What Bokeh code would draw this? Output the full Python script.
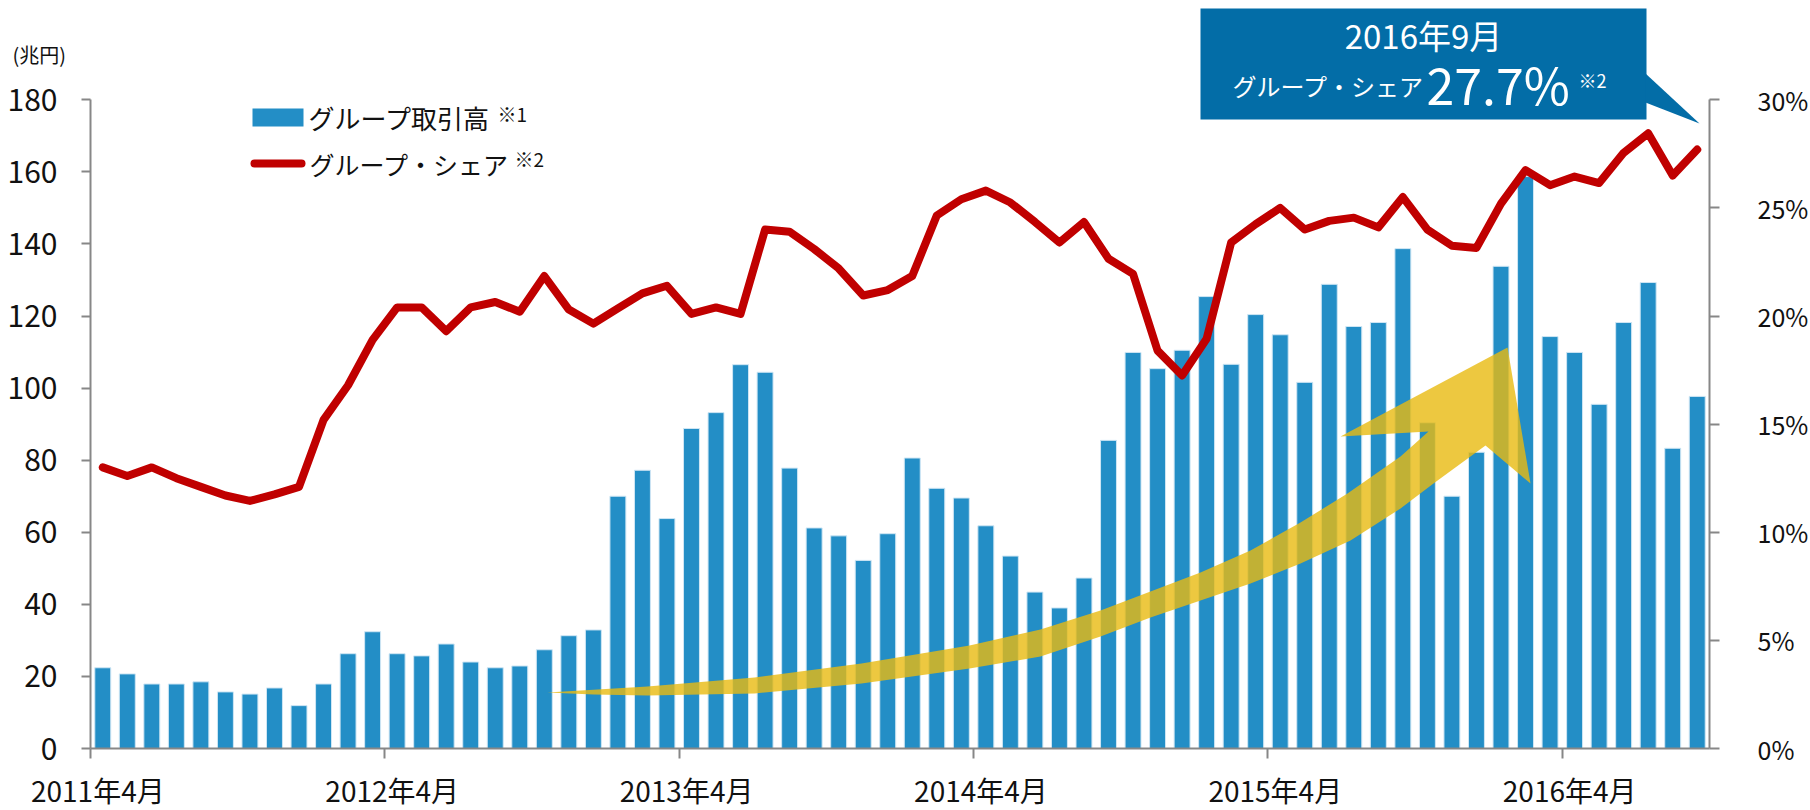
from bokeh.plotting import figure
from bokeh.models import (Range1d, LinearAxis, FixedTicker, PrintfTickFormatter,
                          Label, BoxAnnotation, PolyAnnotation, ColumnDataSource)
from bokeh.embed import file_html
from bokeh.resources import INLINE

# ---------------- data ----------------
volume = [22.4, 20.7, 17.9, 17.9, 18.5, 15.7, 15.1, 16.8, 11.9, 17.9,
          26.3, 32.4, 26.3, 25.7, 29.0, 24.0, 22.4, 22.9, 27.4, 31.3,
          32.9, 70.0, 77.2, 63.8, 88.8, 93.2, 106.5, 104.4, 77.8, 61.2,
          59.0, 52.2, 59.6, 80.6, 72.2, 69.5, 61.8, 53.4, 43.4, 39.0,
          47.3, 85.5, 109.9, 105.4, 110.5, 125.4, 106.6, 120.4, 114.8, 101.6,
          128.8, 117.1, 118.2, 138.7, 90.4, 70.0, 82.2, 133.8, 158.7, 114.3,
          109.9, 95.5, 118.2, 129.3, 83.3, 97.7]
share = [13.0, 12.6, 13.0, 12.5, 12.1, 11.7, 11.45, 11.75, 12.1, 15.2,
         16.8, 18.9, 20.4, 20.4, 19.3, 20.4, 20.65, 20.2, 21.85, 20.3,
         19.65, 20.35, 21.05, 21.4, 20.1, 20.4, 20.1, 24.0, 23.9, 23.1,
         22.2, 20.95, 21.2, 21.85, 24.65, 25.4, 25.8, 25.25, 24.35, 23.4,
         24.35, 22.65, 21.95, 18.4, 17.25, 18.95, 23.4, 24.25, 25.0, 24.0,
         24.4, 24.55, 24.1, 25.5, 24.0, 23.25, 23.15, 25.2, 26.75, 26.05,
         26.45, 26.15, 27.55, 28.45, 26.5, 27.7]
x_tick_labels = ["2011年4月", "2012年4月", "2013年4月", "2014年4月", "2015年4月", "2016年4月"]
left_ticks = [0, 20, 40, 60, 80, 100, 120, 140, 160, 180]
right_ticks = [0, 5, 10, 15, 20, 25, 30]
latest_label = "2016年9月"
bar_name = "グループ取引高"
line_name = "グループ・シェア"
unit_label = "(兆円)"

# ---------------- style / geometry ----------------
FONT = "Noto Sans CJK JP"
BAR = "#238EC6"
RED = "#C00000"
AXIS = "#878787"
BOXC = "#036DA7"
YEL = "#E8BA10"
TXT = "#111111"

W, H = 1810, 810
n = len(volume)
YMAX, PMAX = 180, 30
# pixel positions of the plotting area (x=-0.5..n-0.5, y=0..YMAX)
PX_L, PX_R, PY_B, PY_T = 90.0, 1709.0, 748.0, 99.3
ppx = (PX_R - PX_L) / n
ppy = (PY_B - PY_T) / YMAX
xs0 = -0.5 - PX_L / ppx
xs1 = n - 0.5 + (W - PX_R) / ppx
ys0 = -(H - PY_B) / ppy
ys1 = YMAX + PY_T / ppy
k = YMAX / PMAX

p = figure(width=W, height=H, output_backend="svg", toolbar_location=None,
           x_range=Range1d(xs0, xs1), y_range=Range1d(ys0, ys1),
           x_axis_location=None, y_axis_location=None,
           min_border=0, min_border_left=0, min_border_right=0,
           min_border_top=0, min_border_bottom=0)
p.extra_y_ranges = {"pct": Range1d(ys0 / k, ys1 / k)}
p.outline_line_color = None
p.xgrid.visible = False
p.ygrid.visible = False
p.background_fill_color = "white"
p.border_fill_color = "white"


# page pixel -> data helpers (for decorative annotations only)
def dx(px):
    return xs0 + px / W * (xs1 - xs0)


def dy(py):
    return ys1 - py / H * (ys1 - ys0)


src = ColumnDataSource(dict(x=list(range(n)), vol=volume, pct=share))
p.vbar(x="x", top="vol", width=0.65, source=src, fill_color=BAR,
       line_color="#CFE6F4", line_width=1)

# yellow trend arrow (decorative)
arrow_px = [(547, 692), (647, 686), (754, 677), (861, 663), (969, 645), (1040, 629),
            (1100, 610), (1150, 591), (1200, 572), (1250, 550), (1300, 522), (1347, 493),
            (1400, 456), (1428, 431), (1340, 436), (1507, 347), (1530, 483), (1485, 445),
            (1433, 483), (1400, 508), (1350, 540), (1300, 563), (1250, 583), (1200, 600),
            (1150, 617), (1100, 636), (1040, 656), (969, 668), (861, 683), (754, 693),
            (647, 695), (593, 694)]
p.patch([dx(a) for a, b in arrow_px], [dy(b) for a, b in arrow_px],
        fill_color=YEL, fill_alpha=0.8, line_color=None)

p.line(x="x", y="pct", source=src, y_range_name="pct", line_color=RED,
       line_width=8, line_join="round", line_cap="round")

# ---------------- axes ----------------
lab_pos = [12 * i - 0.2 for i in range(len(x_tick_labels))]
xa = LinearAxis(fixed_location=0, bounds=(-0.5, n - 0.5),
                ticker=FixedTicker(ticks=lab_pos,
                                   minor_ticks=[-0.5 + 12 * i for i in range(len(x_tick_labels))]),
                major_label_overrides={t: s for t, s in zip(lab_pos, x_tick_labels)},
                axis_line_color=AXIS, axis_line_width=2,
                major_tick_line_color=None, major_tick_out=0, major_tick_in=0,
                minor_tick_line_color=AXIS, minor_tick_line_width=2,
                minor_tick_out=10, minor_tick_in=0,
                major_label_standoff=11, major_label_text_font=FONT,
                major_label_text_font_size="28px", major_label_text_color=TXT)
p.add_layout(xa, "below")

ya = LinearAxis(fixed_location=-0.5, bounds=(0, YMAX), ticker=FixedTicker(ticks=left_ticks),
                major_tick_out=9, major_tick_in=0, minor_tick_line_color=None,
                axis_line_color=AXIS, axis_line_width=2,
                major_tick_line_color=AXIS, major_tick_line_width=2,
                major_label_standoff=24, major_label_text_font=FONT,
                major_label_text_font_size="30px", major_label_text_color=TXT)
p.add_layout(ya, "left")

yr = LinearAxis(y_range_name="pct", fixed_location=n - 0.5, bounds=(0, PMAX),
                ticker=FixedTicker(ticks=right_ticks),
                formatter=PrintfTickFormatter(format="%d%%"),
                major_tick_out=10, major_tick_in=0, minor_tick_line_color=None,
                axis_line_color=AXIS, axis_line_width=2,
                major_tick_line_color=AXIS, major_tick_line_width=2,
                major_label_standoff=38, major_label_text_font=FONT,
                major_label_text_font_size="25px", major_label_text_color=TXT)
p.add_layout(yr, "right")

# unit label
p.add_layout(Label(x=dx(12), y=dy(54), text=unit_label, text_font=FONT,
                   text_font_size="20px", text_align="left", text_baseline="middle",
                   text_color=TXT))

# ---------------- legend (manual) ----------------
p.add_layout(BoxAnnotation(left=dx(252), right=dx(303), top=dy(108), bottom=dy(126),
                           fill_color=BAR, fill_alpha=1, line_color=None))
p.add_layout(BoxAnnotation(left=dx(250), right=dx(305), top=dy(159), bottom=dy(167),
                           fill_color=RED, fill_alpha=1, line_color=None, border_radius=4))
p.add_layout(Label(x=dx(308), y=dy(117), text=bar_name, text_font=FONT,
                   text_font_size="26px", text_baseline="middle", text_color=TXT))
p.add_layout(Label(x=dx(497), y=dy(113), text="※1", text_font=FONT,
                   text_font_size="19px", text_baseline="middle", text_color=TXT))
p.add_layout(Label(x=dx(309), y=dy(163), text=line_name, text_font=FONT,
                   text_font_size="25px", text_baseline="middle", text_color=TXT))
p.add_layout(Label(x=dx(514), y=dy(158), text="※2", text_font=FONT,
                   text_font_size="19px", text_baseline="middle", text_color=TXT))

# ---------------- callout ----------------
p.add_layout(BoxAnnotation(left=dx(1200), right=dx(1646), top=dy(8), bottom=dy(119),
                           fill_color=BOXC, fill_alpha=1, line_color=None))
p.add_layout(PolyAnnotation(xs=[dx(1645), dx(1645), dx(1699)], ys=[dy(73), dy(102), dy(123)],
                            fill_color=BOXC, fill_alpha=1, line_color=None))
p.add_layout(Label(x=dx(1423), y=dy(34), text=latest_label, text_font=FONT,
                   text_font_size="33px", text_align="center", text_baseline="middle",
                   text_color="white"))
p.add_layout(Label(x=dx(1424), y=dy(85), text=line_name, text_font=FONT,
                   text_font_size="24px", text_align="right", text_baseline="middle",
                   text_color="white"))
p.add_layout(Label(x=dx(1426), y=dy(82), text=f"{share[-1]:.1f}%", text_font=FONT,
                   text_font_size="50px", text_align="left", text_baseline="middle",
                   text_color="white"))
p.add_layout(Label(x=dx(1578), y=dy(79), text="※2", text_font=FONT,
                   text_font_size="18px", text_align="left", text_baseline="middle",
                   text_color="white"))

open("out.html", "w").write(file_html(p, INLINE))
